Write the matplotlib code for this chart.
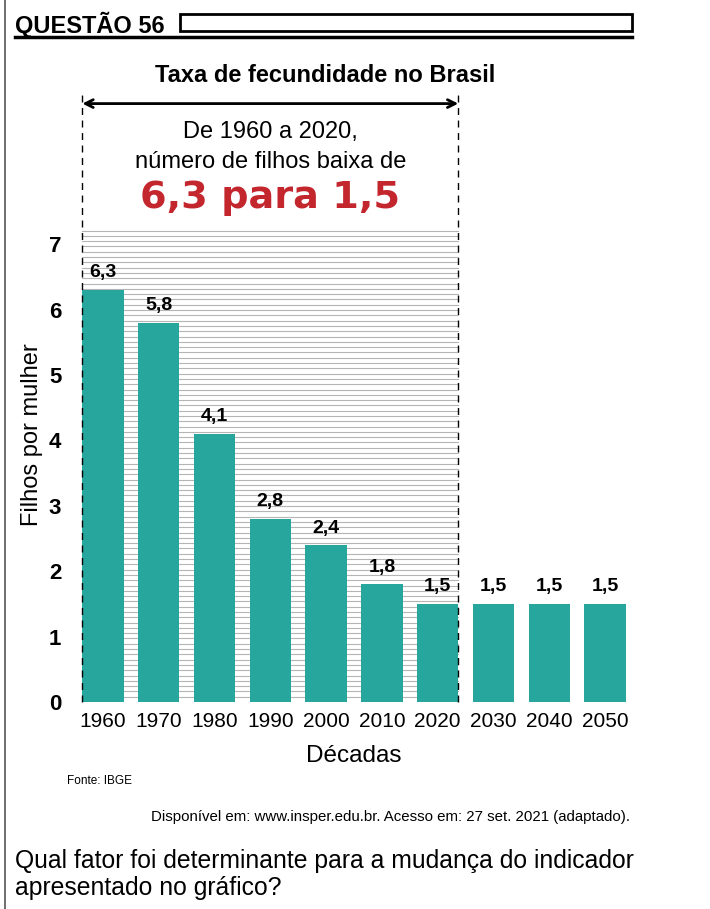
import numpy as np
import matplotlib
matplotlib.use("Agg")
import matplotlib.pyplot as plt

# data
decades = ["1960", "1970", "1980", "1990", "2000", "2010", "2020", "2030", "2040", "2050"]
filhos = [6.3, 5.8, 4.1, 2.8, 2.4, 1.8, 1.5, 1.5, 1.5, 1.5]
labels = ["6,3", "5,8", "4,1", "2,8", "2,4", "1,8", "1,5", "1,5", "1,5", "1,5"]
yticks = [0, 1, 2, 3, 4, 5, 6, 7]

plt.rcParams["font.family"] = ["Liberation Sans", "DejaVu Sans"]

W, H = 710, 909
fig = plt.figure(figsize=(W / 100, H / 100), dpi=100)

# axes placed in pixel terms: x centre 0 at px 103, centre 9 at px 605; y=0 at px 702, 65.4 px/unit
unit_x = (605 - 103) / 9
unit_y = 65.4
ymax = 7.3
left_px = 103 - 0.5 * unit_x
ax = fig.add_axes([left_px / W, (H - 702) / H, 10 * unit_x / W, ymax * unit_y / H])

x = np.arange(len(decades))
bw = 0.74
teal = "#26a69d"

# hatched background of the 1960-2020 window
x0, x1 = x[0] - bw / 2, x[6] + bw / 2
for yy in np.arange(0.08, 7.26, 0.081):
    ax.plot([x0, x1], [yy, yy], color="#b5b5b5", lw=0.8, zorder=1)

ax.bar(x, filhos, width=bw, color=teal, zorder=2)
for xi, v, lab in zip(x, filhos, labels):
    ax.text(xi, v + 0.13, lab, ha="center", va="bottom", fontsize=14,
            fontweight="bold", zorder=3)

# dashed bounds and arrow
ytop = 9.3
for xb in (x0, x1):
    ax.plot([xb, xb], [0, ytop], color="black", lw=1, ls=(0, (5, 4)),
            clip_on=False, zorder=4)
ax.annotate("", xy=(x0, 9.15), xytext=(x1, 9.15),
            arrowprops=dict(arrowstyle="<->", lw=2, color="black",
                            mutation_scale=14, shrinkA=0, shrinkB=0),
            annotation_clip=False)

xm = (x0 + x1) / 2
ax.text(xm, 8.62, "De 1960 a 2020,", ha="center", va="baseline", fontsize=17)
ax.text(xm, 8.165, "número de filhos baixa de", ha="center", va="baseline", fontsize=17)
ax.text(xm, 7.55, "6,3 para 1,5", ha="center", va="baseline", fontsize=27.5,
        fontweight="bold", color="#c4262e", family="DejaVu Sans")

ax.set_xlim(-0.5, 9.5)
ax.set_ylim(0, ymax)
ax.set_xticks(x)
ax.set_xticklabels(decades, fontsize=15)
ax.set_yticks(yticks)
ax.set_yticklabels([str(t) for t in yticks], fontsize=16, fontweight="bold")
ax.tick_params(length=0, pad=7)
ax.tick_params(axis="y", pad=10)
for s in ax.spines.values():
    s.set_visible(False)
ax.set_xlabel("Décadas", fontsize=17.5, labelpad=10)
ax.set_ylabel("Filhos por mulher", fontsize=17)
ax.yaxis.set_label_coords(-0.058, 0.56)

# page decorations
fig.add_artist(plt.Line2D([5 / W, 5 / W], [0, 1], color="#555555", lw=1.2))
fig.text(15 / W, 1 - 25 / H, "QUESTÃO 56", fontsize=17, fontweight="bold",
         va="center", ha="left")
fig.add_artist(plt.Line2D([15 / W, 632 / W], [1 - 37 / H, 1 - 37 / H], color="black", lw=2.5))
fig.add_artist(plt.Rectangle((180 / W, 1 - 31 / H), 452 / W, 17 / H, fill=False,
                             ec="black", lw=2))
fig.text(325 / W, 1 - 75 / H, "Taxa de fecundidade no Brasil", fontsize=17,
         fontweight="bold", ha="center", va="center")
fig.text(67 / W, 1 - 781 / H, "Fonte: IBGE", fontsize=8.5, ha="left", va="center")
fig.text(630 / W, 1 - 817 / H,
         "Disponível em: www.insper.edu.br. Acesso em: 27 set. 2021 (adaptado).",
         fontsize=10.8, ha="right", va="center")
fig.text(15 / W, 1 - 861 / H, "Qual fator foi determinante para a mudança do indicador",
         fontsize=17.8, ha="left", va="center")
fig.text(15 / W, 1 - 888 / H, "apresentado no gráfico?", fontsize=17.8,
         ha="left", va="center")

fig.savefig("out.png", dpi=100)
